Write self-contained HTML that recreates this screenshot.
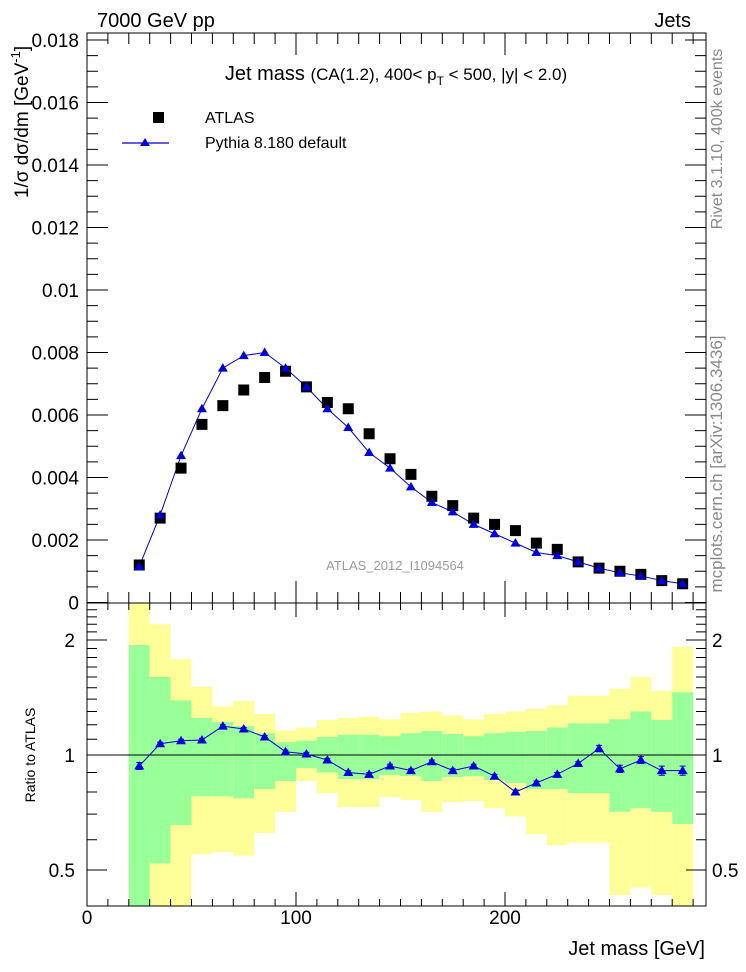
<!DOCTYPE html>
<html><head><meta charset="utf-8"><style>
html,body{margin:0;padding:0;background:#fff;}
svg{display:block;font-family:"Liberation Sans",Arial,sans-serif;}
</style></head><body>
<svg id="chart" width="746" height="972" viewBox="0 0 746 972" xmlns="http://www.w3.org/2000/svg">
<g id="bands"></g>
<g id="marks"></g>
<g id="axes"></g>
<text x="97" y="27" font-size="20">7000 GeV pp</text>
<text x="691" y="27" font-size="20" text-anchor="end">Jets</text>
<text x="396" y="80" font-size="20" text-anchor="middle">Jet mass <tspan font-size="17">(CA(1.2), 400&lt; p</tspan><tspan font-size="12" dy="5">T</tspan><tspan font-size="17" dy="-5"> &lt; 500, |y| &lt; 2.0)</tspan></text>
<rect x="153" y="112" width="11" height="11" fill="#000"/>
<text x="205" y="123" font-size="16">ATLAS</text>
<line x1="122" y1="143" x2="169" y2="143" stroke="#0000cc" stroke-width="1.2"/>
<polygon points="145,138 150,146 140,146" fill="#0000dd"/>
<text x="205" y="148" font-size="16">Pythia 8.180 default</text>
<text x="395" y="570" font-size="13" fill="#999" text-anchor="middle">ATLAS_2012_I1094564</text>
<text transform="translate(28,122) rotate(-90)" font-size="19" text-anchor="middle">1/σ dσ/dm [GeV<tspan font-size="13" dy="-8">-1</tspan><tspan dy="8">]</tspan></text>
<text transform="translate(35,755) rotate(-90)" font-size="14" text-anchor="middle">Ratio to ATLAS</text>
<text transform="translate(722,139) rotate(-90)" font-size="16" fill="#888" text-anchor="middle">Rivet 3.1.10,  400k events</text>
<text transform="translate(722,464) rotate(-90)" font-size="17" fill="#888" text-anchor="middle">mcplots.cern.ch [arXiv:1306.3436]</text>
<text x="705" y="955" font-size="20" text-anchor="end">Jet mass [GeV]</text>
</svg>
<script>
const binLow = [20,30,40,50,60,70,80,90,100,110,120,130,140,150,160,170,180,190,200,210,220,230,240,250,260,270,280];
const atlasValues = [0.0012,0.0027,0.0043,0.0057,0.0063,0.0068,0.0072,0.0074,0.0069,0.0064,0.0062,0.0054,0.0046,0.0041,0.0034,0.0031,0.0027,0.0025,0.0023,0.0019,0.0017,0.0013,0.0011,0.0010,0.0009,0.0007,0.0006];
const pythiaValues = [0.00115,0.0028,0.0047,0.0062,0.0075,0.0079,0.0080,0.0075,0.0069,0.0062,0.0056,0.0048,0.0043,0.0037,0.0032,0.0029,0.0025,0.0022,0.0019,0.0016,0.0015,0.0013,0.0011,0.00095,0.00085,0.0007,0.0006];
const ratioValues = [0.936,1.07,1.09,1.095,1.19,1.17,1.115,1.02,1.006,0.97,0.90,0.89,0.936,0.91,0.96,0.91,0.936,0.88,0.80,0.845,0.89,0.95,1.04,0.92,0.97,0.91,0.91];
const ratioErrors = [0.02,0.01,0.01,0.01,0.01,0.01,0.01,0.01,0.01,0.01,0.01,0.01,0.01,0.01,0.01,0.01,0.01,0.01,0.01,0.01,0.01,0.01,0.02,0.02,0.02,0.025,0.025];
const yellowUpper = [2.6,2.20,1.78,1.51,1.34,1.385,1.28,1.16,1.18,1.235,1.25,1.26,1.24,1.29,1.30,1.27,1.24,1.28,1.30,1.32,1.35,1.43,1.43,1.49,1.60,1.47,1.92];
const greenUpper = [1.94,1.60,1.39,1.25,1.22,1.19,1.14,1.08,1.09,1.115,1.13,1.13,1.12,1.14,1.155,1.135,1.12,1.14,1.15,1.155,1.18,1.21,1.21,1.24,1.30,1.235,1.46];
const greenLower = [0.3,0.52,0.655,0.78,0.78,0.77,0.815,0.855,0.925,0.90,0.865,0.865,0.886,0.88,0.855,0.876,0.88,0.86,0.845,0.815,0.815,0.795,0.795,0.71,0.726,0.71,0.66];
const yellowLower = [0.3,0.3,0.3,0.55,0.557,0.545,0.625,0.71,0.855,0.795,0.73,0.73,0.776,0.763,0.71,0.753,0.758,0.726,0.69,0.62,0.58,0.59,0.59,0.43,0.45,0.43,0.3];
const yTicks = [0,0.002,0.004,0.006,0.008,0.01,0.012,0.014,0.016,0.018];
const yTickLabels = ["0","0.002","0.004","0.006","0.008","0.01","0.012","0.014","0.016","0.018"];
const xTicks = [0,100,200];
const xTickLabels = ["0","100","200"];
const rTicks = [0.5,1,2];
const rTickLabels = ["0.5","1","2"];

const NS="http://www.w3.org/2000/svg";
const L=87,R=706,T=33,MB=603,RB=906;
const xs=v=>L+v*2.09;
const ys=v=>602.5-v*31250;
const rs=v=>755-Math.log10(v)*382;
const rc=v=>Math.max(MB,Math.min(RB,rs(v)));
function mk(tag,attrs,parent){const e=document.createElementNS(NS,tag);for(const k in attrs)e.setAttribute(k,attrs[k]);parent.appendChild(e);return e;}
const bands=document.getElementById('bands'),marks=document.getElementById('marks'),axes=document.getElementById('axes');

binLow.forEach((b,i)=>{
  const x0=xs(b),x1=xs(b+10);
  const y1=mk('rect',{x:x0,y:rc(yellowUpper[i]),width:x1-x0,height:rc(yellowLower[i])-rc(yellowUpper[i]),fill:'#ffff99'},bands);
  
  
  const g=mk('rect',{x:x0,y:rc(greenUpper[i]),width:x1-x0,height:rc(greenLower[i])-rc(greenUpper[i]),fill:'#99ff99'},bands);
  
  
});
const ul=mk('line',{x1:L,y1:rs(1),x2:R,y2:rs(1),stroke:'#000','stroke-width':1},marks);



const centers=binLow.map(b=>b+5);
const pl=mk('polyline',{points:centers.map((c,i)=>xs(c)+','+ys(pythiaValues[i])).join(' '),fill:'none',stroke:'#0000dd','stroke-width':1},marks);


centers.forEach((c,i)=>{
  const x=xs(c),y=ys(atlasValues[i]);
  const s=mk('rect',{x:x-5.5,y:y-5.5,width:11,height:11,fill:'#000'},marks);
  
  
});
function tri(x,y,parent){return mk('polygon',{points:`${x},${y-5} ${x+5},${y+3.5} ${x-5},${y+3.5}`,fill:'#0000dd'},parent);}
centers.forEach((c,i)=>{
  const t=tri(xs(c),ys(pythiaValues[i]),marks);
  
  
});
const rl=mk('polyline',{points:centers.map((c,i)=>xs(c)+','+rs(ratioValues[i])).join(' '),fill:'none',stroke:'#0000dd','stroke-width':1},marks);


centers.forEach((c,i)=>{
  const x=xs(c);
  const e=mk('path',{d:`M${x},${rs(ratioValues[i]+ratioErrors[i])}V${rs(ratioValues[i]-ratioErrors[i])}M${x-3},${rs(ratioValues[i]+ratioErrors[i])}h6M${x-3},${rs(ratioValues[i]-ratioErrors[i])}h6`,stroke:'#0000dd','stroke-width':1,fill:'none'},marks);
  
  
  const t=tri(x,rs(ratioValues[i]),marks);
  
  
});

const f1=mk('rect',{x:L,y:T,width:R-L,height:MB-T,fill:'none',stroke:'#000','stroke-width':1},axes);


const f2=mk('rect',{x:L,y:MB,width:R-L,height:RB-MB,fill:'none',stroke:'#000','stroke-width':1},axes);


let d='';
for(let v=0;v<=0.0182;v+=0.0005){const y=ys(v);const maj=Math.abs(v/0.002-Math.round(v/0.002))<1e-6;const len=maj?21:11;d+=`M${L},${y}h${len}M${R},${y}h${-len}`;}
for(let v=0;v<=295;v+=10){const x=xs(v);const maj=v%100===0;const mlen=maj?22:11;const rlen=maj?14:7;
  d+=`M${x},${MB}v${-mlen}M${x},${T}v${mlen}M${x},${RB}v${-rlen}M${x},${MB}v${rlen}`;}
[0.5,0.6,0.7,0.8,0.9,1,1.1,1.2,1.3,1.4,1.5,1.6,1.7,1.8,1.9,2,2.1,2.2,2.3,2.4].forEach(v=>{const y=rs(v);const maj=[0.5,1,2].includes(v);const len=maj?20:10;d+=`M${L},${y}h${len}M${R},${y}h${-len}`;});
const tk=mk('path',{d:d,stroke:'#000','stroke-width':1,fill:'none'},axes);


yTicks.forEach((v,i)=>{
  const t=mk('text',{x:79,y:ys(v)+7,'font-size':19,'text-anchor':'end'},axes);
  t.textContent=yTickLabels[i];
  
  
});
xTicks.forEach((v,i)=>{
  const t=mk('text',{x:xs(v),y:924,'font-size':19,'text-anchor':'middle'},axes);
  t.textContent=xTickLabels[i];
  
  
});
rTicks.forEach((v,i)=>{
  const t=mk('text',{x:75,y:rs(v)+7,'font-size':19,'text-anchor':'end'},axes);
  t.textContent=rTickLabels[i];
  
  
  const t2=mk('text',{x:712,y:rs(v)+7,'font-size':19},axes);
  t2.textContent=rTickLabels[i];
  
  
});
</script>
</body></html>
